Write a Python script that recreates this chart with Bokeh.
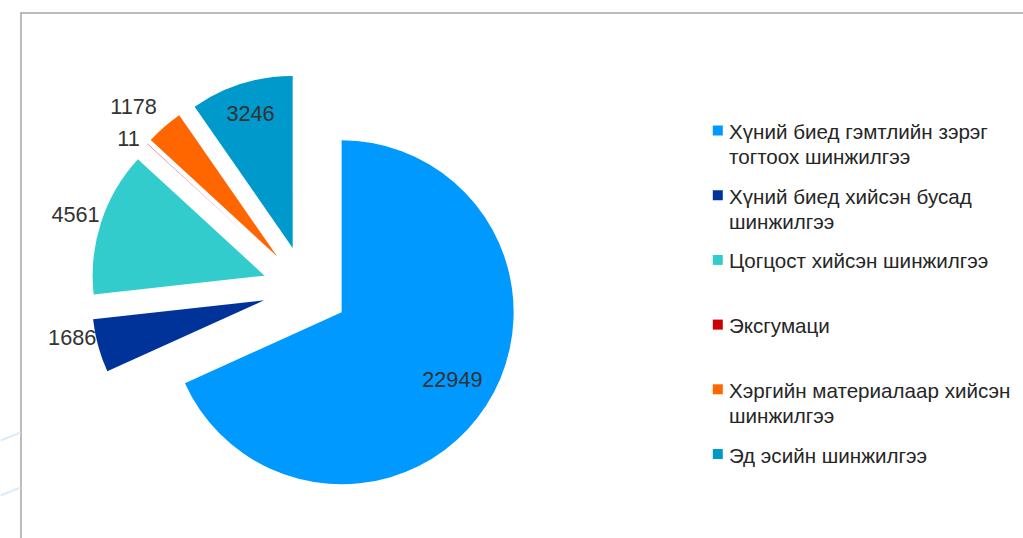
import math
from bokeh.plotting import figure
from bokeh.models import Range1d, ColumnDataSource
from bokeh.embed import file_html
from bokeh.resources import INLINE
from bokeh.core.properties import value

# ---- data ----
categories = [
    "Хүний биед гэмтлийн зэрэг\nтогтоох шинжилгээ",
    "Хүний биед хийсэн бусад\nшинжилгээ",
    "Цогцост хийсэн  шинжилгээ",
    "Эксгумаци",
    "Хэргийн материалаар хийсэн\nшинжилгээ",
    "Эд эсийн шинжилгээ",
]
values = [22949, 1686, 4561, 11, 1178, 3246]

# ---- style ----
colors = ["#0099FF", "#003399", "#33CCCC", "#CC0000", "#FF6600", "#0099CC"]
label_dist = [0.752, 1.136, 1.156, 1.10, 1.208, 0.82]   # fraction of radius from slice apex
label_shift = [-1.7, 4.3, -0.1, -2.8, -2.7, 0.0]         # degrees
CX, CY = 305.0, -288.5
R = 172.0
EXPLODE = 43.0
FONT = "Liberation Sans"

W, H = 1023, 538
p = figure(width=W, height=H, output_backend="svg", toolbar_location=None,
           x_range=Range1d(0, W), y_range=Range1d(-H, 0),
           x_axis_location=None, y_axis_location=None,
           min_border=0, min_border_left=0, min_border_right=0,
           min_border_top=0, min_border_bottom=0)
p.outline_line_color = None
p.grid.visible = False
p.background_fill_color = "white"
p.border_fill_color = "white"

# decorative frame and background lines
p.line([20.5, 20.5], [-12, -540], line_color="#a6a6a6", line_width=1.5)
p.line([20, 1030], [-12.5, -12.5], line_color="#a6a6a6", line_width=1.5)
p.line([0, 20], [-440, -432], line_color="#dcecfa", line_width=2)
p.line([0, 20], [-495, -487], line_color="#dcecfa", line_width=2)

total = float(sum(values))
xs, ys, sa, ea, lx, ly, txt = [], [], [], [], [], [], []
cum = 0.0
for i, v in enumerate(values):
    th_s = cum / total * 360.0
    cum += v
    th_e = cum / total * 360.0
    mid = 0.5 * (th_s + th_e)
    m = math.radians(mid)
    ax = CX + EXPLODE * math.sin(m)
    ay = CY + EXPLODE * math.cos(m)
    xs.append(ax)
    ys.append(ay)
    sa.append(math.radians(90 - th_e))
    ea.append(math.radians(90 - th_s))
    lm = math.radians(mid + label_shift[i])
    lx.append(ax + label_dist[i] * R * math.sin(lm))
    ly.append(ay + label_dist[i] * R * math.cos(lm))
    txt.append(str(v))

src = ColumnDataSource(dict(x=xs, y=ys, sa=sa, ea=ea, color=colors))
p.wedge(x="x", y="y", radius=R, start_angle="sa", end_angle="ea",
        direction="anticlock", fill_color="color", line_color=None, source=src)

p.text(x=lx, y=ly, text=txt, text_font=value(FONT), text_font_size="21.7px",
       text_color="#333333", text_align="center", text_baseline="middle")

# ---- legend ----
LEG_X = 712.3
TXT_X = 728.5
FIRST_MID = 131.0
STEP = 64.7
LINE_H = 25.0
sq_x, sq_y, t_x, t_y, t_t = [], [], [], [], []
for i, cat in enumerate(categories):
    mid_y = FIRST_MID + i * STEP
    sq_x.append(LEG_X + 5)
    sq_y.append(-(mid_y - 1.0))
    for j, line in enumerate(cat.split("\n")):
        t_x.append(TXT_X)
        t_y.append(-(mid_y + j * LINE_H))
        t_t.append(line)

p.rect(x=sq_x, y=sq_y, width=10, height=10, fill_color=colors, line_color=None)
p.text(x=t_x, y=t_y, text=t_t, text_font=value(FONT), text_font_size="20.6px",
       text_color="#262626", text_align="left", text_baseline="middle")

open("out.html", "w").write(file_html(p, INLINE))
